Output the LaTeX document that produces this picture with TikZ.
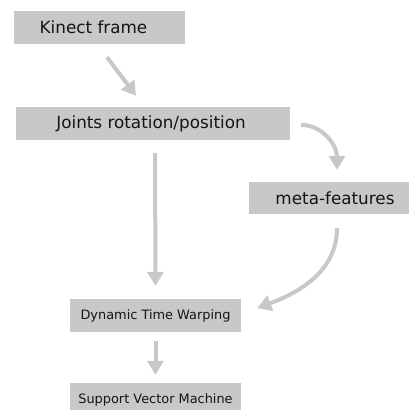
\documentclass[tikz,border=0pt]{standalone}
\usepackage{fontspec}
\setmainfont{DejaVu Sans}
\usetikzlibrary{arrows.meta}
\definecolor{boxgray}{RGB}{200,200,200}
\definecolor{arrowgray}{RGB}{200,200,200}
\definecolor{textdark}{RGB}{20,20,20}

\begin{document}
\begin{tikzpicture}[x=1pt, y=-1pt]
  \tikzstyle{stage} = [rectangle, fill=boxgray, inner sep = 0pt, text=textdark, minimum height = 33pt]
  \tikzstyle{bigStage} = [stage, font=\fontsize{16.8}{20}\selectfont]
  \tikzstyle{smallStage} = [stage, minimum width = 171pt, font=\fontsize{12.9}{16}\selectfont]
  \tikzstyle{flow} = [line width = 4pt, draw=arrowgray, -{Triangle[width=16pt, length=14pt]}]

  \clip (0, 0) rectangle (409, 410);

  % Draw stages
  \node[bigStage, minimum width = 171pt] (kinect) at (99.5, 27.5) {\hspace{-12pt}Kinect frame};
  \node[bigStage, minimum width = 274pt] (joints) at (153, 123.5) {\hspace{-4pt}Joints rotation/position};
  \node[bigStage, minimum width = 160pt, minimum height = 32pt] (meta) at (329, 198) {\hspace{12pt}meta-features};
  \node[smallStage] (dtw) at (155.5, 315.5) {Dynamic Time Warping};
  \node[smallStage] (svm) at (155.5, 399.5) {Support Vector Machine};

  % Straight connections
  \draw[flow] ([xshift=7.5pt, yshift=-13pt]kinect.south) -- ([xshift=-17pt, yshift=11pt]joints.north);
  \draw[flow] ([xshift=2pt, yshift=-13pt]joints.south) -- ([yshift=13pt]dtw.north);
  \draw[flow] ([yshift=-9pt]dtw.south) -- ([yshift=8pt]svm.north);

  % Curved connections
  \draw[flow] ([xshift=11pt, yshift=-1.5pt]joints.east) .. controls +(22, 0) and +(0, -24) .. ([xshift=8pt, yshift=12pt]meta.north);
  \draw[flow] ([xshift=8pt, yshift=-14pt]meta.south) .. controls +(0, 45) and +(38, -14) .. ([xshift=16pt, yshift=7.5pt]dtw.east);

\end{tikzpicture}
\end{document}
